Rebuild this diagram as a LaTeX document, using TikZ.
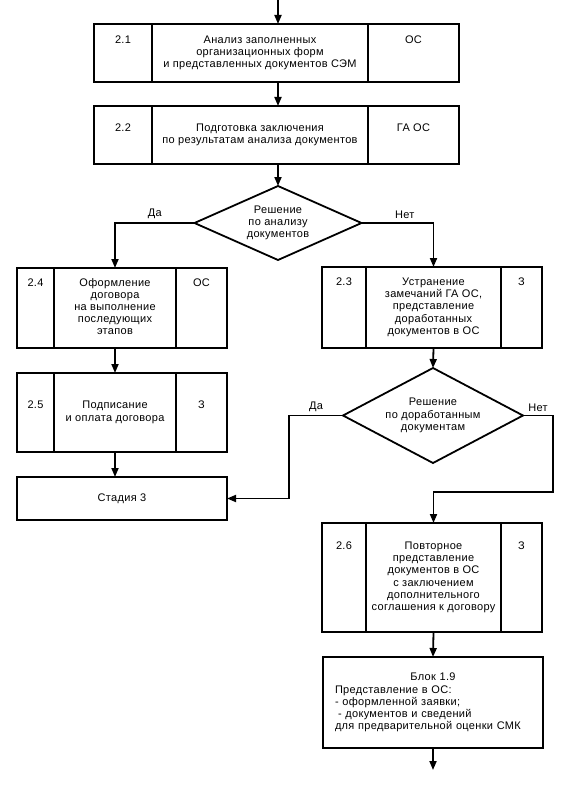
\documentclass[tikz,border=0pt]{standalone}
\usepackage{fontspec}
\setmainfont{Liberation Sans}[LetterSpace=3]
\usetikzlibrary{arrows.meta,shapes.geometric,positioning,calc}

% lines of a step, baseline on the first line
\newcommand{\steptext}[1]{\begin{tabular}[t]{@{}c@{}}#1\end{tabular}}

\begin{document}
\begin{tikzpicture}[
    x=1pt,y=-1pt,
    every node/.style={font=\fontsize{11}{12.2}\selectfont},
    stepbox/.style={rectangle,draw,line width=1.8pt,outer sep=0pt,inner sep=2pt},
    decision/.style={diamond,draw,line width=1.8pt,outer sep=0pt,inner sep=0pt,align=center},
    arrow/.style={line width=1.8pt,->,>={Triangle[length=9pt,width=7pt]}}
]
    \useasboundingbox (0,0) rectangle (573,797);
    \coordinate (start) at (278,0);
    \coordinate (end) at (433,770);

    % Block 2.1
    \node[stepbox,minimum width=216,minimum height=58] (t21) at (260,53) {\steptext{Анализ заполненных\\организационных форм\\и представленных документов СЭМ}};
    \node[stepbox,minimum width=58,minimum height=58,left=0pt of t21] (n21) {};
    \node[stepbox,minimum width=91,minimum height=58,right=0pt of t21] (w21) {};
    \node[anchor=base] (l21) at (n21 |- t21.base) {2.1};
    \node[anchor=base] (o21) at (w21 |- t21.base) {ОС};

    % Block 2.2
    \node[stepbox,minimum width=216,minimum height=58] (t22) at (260,135) {\steptext{Подготовка заключения\\по результатам анализа документов}};
    \node[stepbox,minimum width=58,minimum height=58,left=0pt of t22] (n22) {};
    \node[stepbox,minimum width=91,minimum height=58,right=0pt of t22] (w22) {};
    \node[anchor=base] (l22) at (n22 |- t22.base) {2.2};
    \node[anchor=base] (o22) at (w22 |- t22.base) {ГА ОС};

    \node[decision,minimum width=167,minimum height=74,aspect=2.25] (d1) at (278,223) {Решение\\по анализу\\документов};

    % Left branch
    \node[stepbox,minimum width=122,minimum height=80] (t24) at (115,308) {\steptext{Оформление\\договора\\на выполнение\\последующих\\этапов}};
    \node[stepbox,minimum width=37,minimum height=80,left=0pt of t24] (n24) {};
    \node[stepbox,minimum width=51,minimum height=80,right=0pt of t24] (w24) {};
    \node[anchor=base] (l24) at (n24 |- t24.base) {2.4};
    \node[anchor=base] (o24) at (w24 |- t24.base) {ОС};

    \node[stepbox,minimum width=122,minimum height=79] (t25) at (115,412.5) {\steptext{Подписание\\и оплата договора}};
    \node[stepbox,minimum width=37,minimum height=79,left=0pt of t25] (n25) {};
    \node[stepbox,minimum width=51,minimum height=79,right=0pt of t25] (w25) {};
    \node[anchor=base] (l25) at (n25 |- t25.base) {2.5};
    \node[anchor=base] (o25) at (w25 |- t25.base) {З};

    \node[stepbox,minimum width=210,minimum height=43] (st3) at (122,498.5) {Стадия 3};

    % Right branch
    \node[stepbox,minimum width=135,minimum height=81] (t23) at (433.5,307.5) {\steptext{Устранение\\замечаний ГА ОС,\\представление\\доработанных\\документов в ОС}};
    \node[stepbox,minimum width=44,minimum height=81,left=0pt of t23] (n23) {};
    \node[stepbox,minimum width=41,minimum height=81,right=0pt of t23] (w23) {};
    \node[anchor=base] (l23) at (n23 |- t23.base) {2.3};
    \node[anchor=base] (o23) at (w23 |- t23.base) {З};

    \node[decision,minimum width=180,minimum height=95,aspect=1.9] (d2) at (433,415.5) {Решение\\по доработанным\\документам};

    \node[stepbox,minimum width=135,minimum height=109] (t26) at (433.5,577.5) {\steptext{Повторное\\представление\\документов в ОС\\с заключением\\дополнительного\\соглашения к договору}};
    \node[stepbox,minimum width=44,minimum height=109,left=0pt of t26] (n26) {};
    \node[stepbox,minimum width=41,minimum height=109,right=0pt of t26] (w26) {};
    \node[anchor=base] (l26) at (n26 |- t26.base) {2.6};
    \node[anchor=base] (o26) at (w26 |- t26.base) {З};

    \node[stepbox,minimum width=220,minimum height=91,text width=196pt,align=left] (blk) at (433,702.5) {\makebox[196pt]{Блок 1.9}\\Представление в ОС:\\- оформленной заявки;\\\hspace*{3pt}- документов и сведений\\для предварительной оценки СМК};

    % Connectors
    \draw[arrow] (start) -- (start |- t21.north);
    \draw[arrow] (start |- t21.south) -- (start |- t22.north);
    \draw[arrow] (d1.north |- t22.south) -- (d1.north);
    \draw[arrow] (d1.west) -| node[pos=0.25,above] {Да} (t24.north);
    \draw[arrow] (d1.east) -| node[pos=0.3,above] {Нет} (t23.north);
    \draw[arrow] (t24.south) -- (t25.north);
    \draw[arrow] (t25.south) -- (t25.south |- st3.north);
    \draw[arrow] (t23.south) -- (d2.north);
    \draw[arrow] (d2.west) -- ++(-54,0) node[midway,above] {Да} |- (st3.east);
    \draw[arrow] (d2.east) -- ++(30,0) node[midway,above] {Нет} |- ($(t26.north)+(0,-31)$) -- (t26.north);
    \draw[arrow] (t26.south) -- (blk.north);
    \draw[arrow] (blk.south) -- (end);
\end{tikzpicture}
\end{document}
